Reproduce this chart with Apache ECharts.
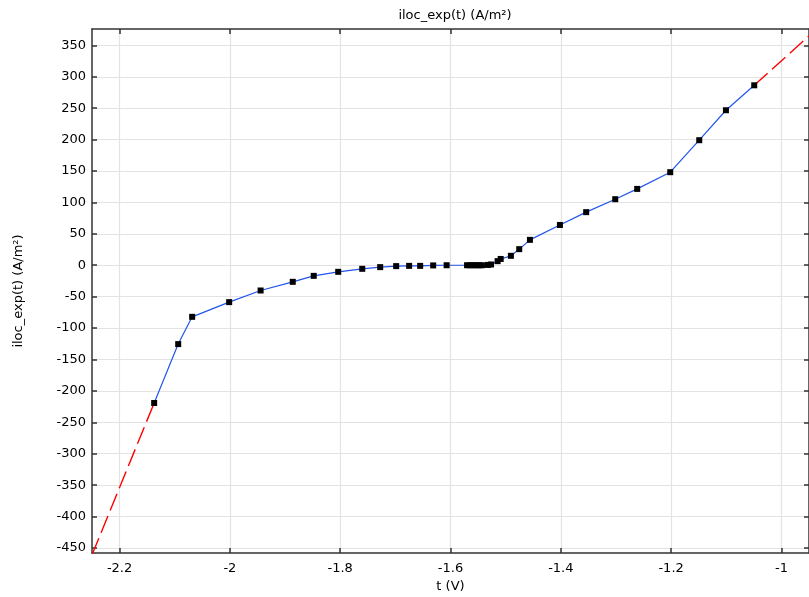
<!DOCTYPE html>
<html><head><meta charset="utf-8">
<script src="https://cdn.jsdelivr.net/npm/echarts@6/dist/echarts.min.js"></script>
<style>html,body{margin:0;padding:0;background:#fff}#c{width:809px;height:597px}</style>
</head><body><div id="c"></div>
<script>
const tValues = [-2.1373,-2.0937,-2.0684,-2.0013,-1.9443,-1.886,-1.848,-1.8036,-1.760,-1.7275,-1.6985,-1.675,-1.655,-1.6314,-1.607,-1.570,-1.5648,-1.559,-1.5535,-1.548,-1.543,-1.532,-1.5265,-1.5146,-1.509,-1.4905,-1.4754,-1.456,-1.4016,-1.354,-1.3013,-1.2615,-1.2016,-1.149,-1.1006,-1.0493];
const ilocValues = [-219.3,-125.5,-82.1,-58.7,-40.2,-26.4,-16.9,-10.5,-5.7,-3.0,-1.4,-1.0,-1.0,-0.3,0,0,0,0,0,0,0,0.5,1.2,6.5,10,15,25.6,40.4,64.1,84.5,105.1,121.5,148.1,199,246.7,286.4];
const leftExtrapT = [-2.25,-2.1373];
const leftExtrapI = [-461,-219.3];
const rightExtrapT = [-1.0493,-0.95];
const rightExtrapI = [286.4,365];
const xTicks = [-2.2,-2,-1.8,-1.6,-1.4,-1.2,-1];
const yTicks = [-450,-400,-350,-300,-250,-200,-150,-100,-50,0,50,100,150,200,250,300,350];

const FONT = 'DejaVu Sans';
const zip = (a,b) => a.map((v,i)=>[v,b[i]]);
const chart = echarts.init(document.getElementById('c'), null, {renderer:'canvas'});

function mkAxis(ticks, extra){
  return Object.assign({
    type:'value',
    axisLine:{show:true, onZero:false, lineStyle:{color:'#333', width:1.5}},
    axisTick:{show:true, inside:true, length:5, customValues:ticks, lineStyle:{color:'#333', width:1.5}},
    axisLabel:{show:true, customValues:ticks, color:'#000', fontFamily:FONT, fontSize:13},
    splitLine:{show:true, lineStyle:{color:'#e3e3e3', width:1.2}},
  }, extra);
}

chart.setOption({
  animation:false,
  backgroundColor:'#fff',
  title:{text:'iloc_exp(t) (A/m²)', left:450, top:4, textAlign:'center',
    textStyle:{fontFamily:FONT, fontSize:13, fontWeight:'normal', color:'#000'}},
  grid:{left:92, top:29, right:0, bottom:44, containLabel:false, outerBoundsMode:'none'},
  xAxis:[
    mkAxis(xTicks,{min:-2.25, max:-0.95, position:'bottom',
      name:'t (V)', nameLocation:'middle', nameGap:26,
      nameTextStyle:{fontFamily:FONT, fontSize:13, color:'#000'},
      axisLabel:{show:true, customValues:xTicks, color:'#000', fontFamily:FONT, fontSize:13, margin:9,
        formatter:v=>String(Math.round(v*10)/10)}}),
    mkAxis(xTicks,{min:-2.25, max:-0.95, position:'top',
      axisLabel:{show:false}, splitLine:{show:false}})
  ],
  yAxis:[
    mkAxis(yTicks,{min:-458, max:376, position:'left',
      name:'iloc_exp(t) (A/m²)', nameLocation:'middle', nameGap:67, nameRotate:90,
      nameTextStyle:{fontFamily:FONT, fontSize:13, color:'#000'},
      axisLabel:{show:true, customValues:yTicks, color:'#000', fontFamily:FONT, fontSize:13, margin:6}}),
    mkAxis(yTicks,{min:-458, max:376, position:'right',
      axisLabel:{show:false}, splitLine:{show:false}})
  ],
  series:[
    {type:'line', data:zip(leftExtrapT,leftExtrapI), showSymbol:false, symbol:'none',
      lineStyle:{color:'#ff0000', width:1.4, type:[18,6]}, clip:true, z:2},
    {type:'line', data:zip(rightExtrapT,rightExtrapI), showSymbol:false, symbol:'none',
      lineStyle:{color:'#ff0000', width:1.4, type:[18,6]}, clip:true, z:2},
    {type:'line', data:zip(tValues,ilocValues), symbol:'rect', symbolSize:6,
      itemStyle:{color:'#000'}, lineStyle:{color:'#2255ee', width:1.2}, clip:true, z:3}
  ]
});
</script></body></html>
